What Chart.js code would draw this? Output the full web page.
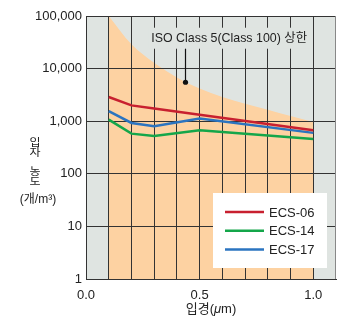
<!DOCTYPE html>
<html>
<head>
<meta charset="utf-8">
<script src="https://cdn.jsdelivr.net/npm/chart.js@4/dist/chart.umd.min.js"></script>
<style>
  body { margin: 0; background: #fff; }
  canvas { display: block; }
</style>
</head>
<body>
<canvas id="myChart" width="339" height="320"></canvas>
<script>
// particle sizes (um) and counts per m3
const sizes = [0.1, 0.2, 0.3, 0.5, 1.0];
const ecs06 = [2880, 2000, 1740, 1330, 670];
const ecs14 = [1070, 580, 525, 670, 460];
const ecs17 = [1560, 925, 800, 1120, 600];
const seriesNames = ["ECS-06", "ECS-14", "ECS-17"];

// ISO Class 5 upper limit
const isoSizes = [0.1, 0.2, 0.3, 0.4, 0.5, 0.6, 0.7, 0.8, 0.9, 1.0];
const isoLimit = [100000, 29000, 12900, 6800, 4200, 2900, 2150, 1650, 1250, 970];
const isoLabel = "ISO Class 5(Class 100) 상한";

const yTicks = [1, 10, 100, 1000, 10000, 100000];
const yTickLabels = ["1", "10", "100", "1,000", "10,000", "100,000"];
const xTickValues = [0, 0.5, 1.0];
const xTickLabels = ["0.0", "0.5", "1.0"];

const colors = ["#c8202f", "#14a64a", "#2b74c0"];
const plotBg = "#dfe4e1";
const font = "Liberation Sans";
const krFont = "'Liberation Sans', 'Noto Sans CJK KR'";

const ctx = document.getElementById("myChart").getContext("2d");

function pts(xs, ys) {
  return xs.map((x, i) => ({ x: x, y: ys[i] }));
}

const extras = {
  id: "extras",
  afterDraw(chart) {
    const c = chart.ctx;
    const a = chart.chartArea;
    const xs = chart.scales.x;
    const ys = chart.scales.y;
    c.save();
    // plot background behind everything
    c.globalCompositeOperation = "destination-over";
    c.fillStyle = plotBg;
    c.fillRect(a.left, a.top, a.right - a.left, a.bottom - a.top);
    c.globalCompositeOperation = "source-over";

    // top and right edges
    c.lineWidth = 1;
    c.strokeStyle = "#333";
    c.beginPath();
    c.moveTo(a.left, a.top + 0.5);
    c.lineTo(a.right, a.top + 0.5);
    c.stroke();
    c.strokeStyle = "#888";
    c.beginPath();
    c.moveTo(a.right - 0.5, a.top);
    c.lineTo(a.right - 0.5, a.bottom);
    c.stroke();

    // annotation for the ISO limit
    c.font = "12.4px " + krFont;
    const tx = xs.getPixelForValue(0.63);
    const ty = ys.getPixelForValue(37000);
    const tw = c.measureText(isoLabel).width;
    c.fillStyle = plotBg;
    c.fillRect(tx - tw / 2 - 3, ty - 11, tw + 6, 21);
    c.fillStyle = "#222";
    c.textAlign = "center";
    c.textBaseline = "middle";
    c.fillText(isoLabel, tx, ty);
    const dx = Math.round(xs.getPixelForValue(0.437)) + 0.5;
    const dy = ys.getPixelForValue(5500);
    c.strokeStyle = "#111";
    c.lineWidth = 1.2;
    c.beginPath();
    c.moveTo(dx, ty + 10);
    c.lineTo(dx, dy);
    c.stroke();
    c.fillStyle = "#111";
    c.beginPath();
    c.arc(dx, dy, 2.6, 0, Math.PI * 2);
    c.fill();

    // legend box
    const lx = a.right - 123, ly = a.bottom - 86, lw = 114, lh = 75;
    c.fillStyle = "#fff";
    c.fillRect(lx, ly, lw, lh);
    c.font = "13px '" + font + "'";
    c.textAlign = "left";
    seriesNames.forEach((name, i) => {
      const y = ly + 19 + i * 18.7;
      c.strokeStyle = colors[i];
      c.lineWidth = 2.5;
      c.beginPath();
      c.moveTo(lx + 12, y);
      c.lineTo(lx + 51, y);
      c.stroke();
      c.fillStyle = "#222";
      c.fillText(name, lx + 56, y + 1);
    });

    // y axis title, stacked and slightly squashed
    c.textAlign = "center";
    c.fillStyle = "#222";
    const chars = ["입", "자", "", "농", "도"];
    c.font = "12px 'Noto Sans CJK KR'";
    chars.forEach((ch, i) => {
      c.save();
      c.translate(35, 142 + i * 9.8);
      c.scale(1, 0.82);
      c.fillText(ch, 0, 0);
      c.restore();
    });
    c.font = "12px " + krFont;
    c.fillText("(개/m³)", 38, 200);

    // x axis title with italic mu
    const cx = xs.getPixelForValue(0.55);
    const p1 = "입경(", p2 = "μ", p3 = "m)";
    c.font = "13px " + krFont;
    const w1 = c.measureText(p1).width, w3 = c.measureText(p3).width;
    c.font = "italic 13px '" + font + "'";
    const w2 = c.measureText(p2).width;
    let x0 = cx - (w1 + w2 + w3) / 2;
    c.textAlign = "left";
    c.font = "13px " + krFont;
    c.fillText(p1, x0, 309);
    c.font = "italic 13px '" + font + "'";
    c.fillText(p2, x0 + w1, 309);
    c.font = "13px " + krFont;
    c.fillText(p3, x0 + w1 + w2, 309);
    c.restore();
  }
};

const myChart = new Chart(ctx, {
  type: "line",
  data: {
    datasets: [
      {
        label: "ISO",
        data: pts(isoSizes, isoLimit),
        fill: "start",
        backgroundColor: "#fdd2a2",
        borderWidth: 0,
        pointRadius: 0,
        tension: 0.4,
        cubicInterpolationMode: "monotone",
      },
      {
        label: seriesNames[0],
        data: pts(sizes, ecs06),
        borderColor: colors[0],
        borderWidth: 2.5,
        pointRadius: 0,
        tension: 0,
      },
      {
        label: seriesNames[1],
        data: pts(sizes, ecs14),
        borderColor: colors[1],
        borderWidth: 2.5,
        pointRadius: 0,
        tension: 0,
      },
      {
        label: seriesNames[2],
        data: pts(sizes, ecs17),
        borderColor: colors[2],
        borderWidth: 2.5,
        pointRadius: 0,
        tension: 0,
      },
    ],
  },
  options: {
    responsive: false,
    animation: false,
    layout: { padding: { top: 16, right: 3, left: 0, bottom: 0 } },
    plugins: {
      legend: { display: false },
      tooltip: { enabled: false },
      filler: { drawTime: "beforeDraw" },
    },
    scales: {
      x: {
        type: "linear",
        min: 0,
        max: 1.1,
        afterFit: (s) => {
          s.height = 41;
          s.paddingLeft = 0;
          s.paddingRight = 0;
        },
        border: { color: "#333", width: 1 },
        grid: {
          drawTicks: false,
          color: (c) => (c.tick.value > 0.05 && c.tick.value < 1.05 ? "#333" : "transparent"),
        },
        ticks: {
          stepSize: 0.1,
          padding: 9,
          autoSkip: false,
          maxRotation: 0,
          color: "#222",
          font: { family: font, size: 13 },
          callback: (v) => {
            const i = xTickValues.findIndex((t) => Math.abs(t - v) < 1e-6);
            return i >= 0 ? xTickLabels[i] : "";
          },
        },
      },
      y: {
        type: "logarithmic",
        min: 1,
        max: 100000,
        afterFit: (s) => {
          s.width = 86;
          s.paddingTop = 0;
          s.paddingBottom = 0;
        },
        afterBuildTicks: (s) => { s.ticks = yTicks.map((v) => ({ value: v })); },
        border: { color: "#333", width: 1 },
        grid: {
          drawTicks: false,
          color: "#333",
        },
        ticks: {
          padding: 4,
          color: "#222",
          font: { family: font, size: 13 },
          callback: (v) => {
            const i = yTicks.indexOf(v);
            return i >= 0 ? yTickLabels[i] : "";
          },
        },
      },
    },
  },
  plugins: [extras],
});
</script>
</body>
</html>
